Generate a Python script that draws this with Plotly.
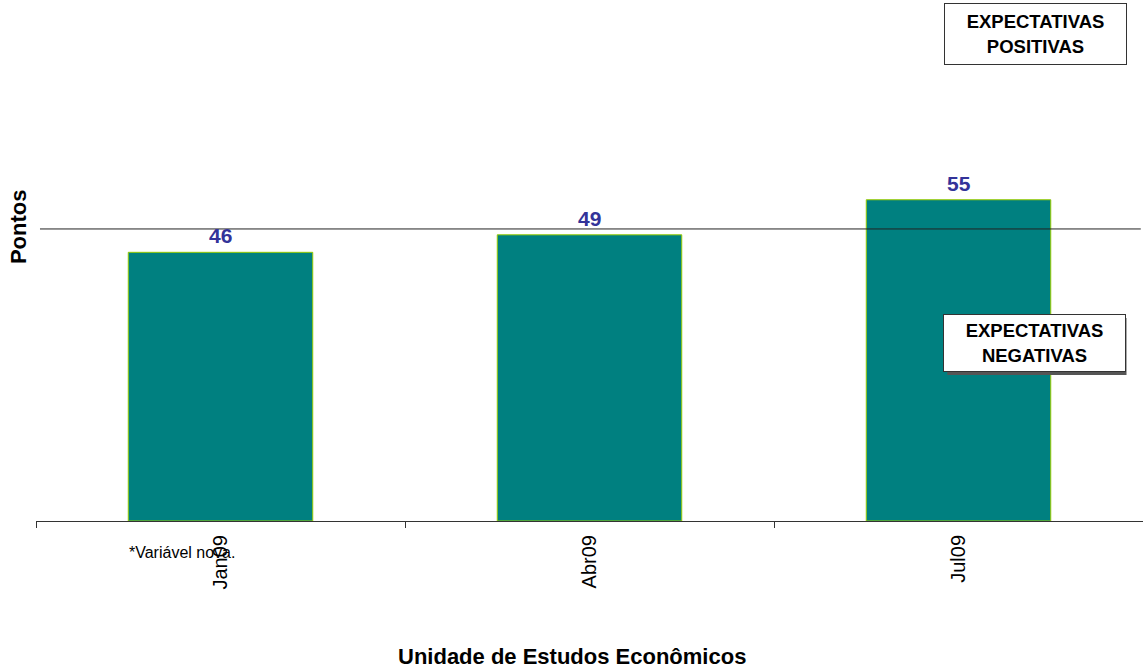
import plotly.graph_objects as go

categories = ["Jan09", "Abr09", "Jul09"]
values = [46, 49, 55]
value_labels = ["46", "49", "55"]
reference_level = 50

FONT = "Liberation Sans, Arial, sans-serif"

fig = go.Figure()
fig.add_trace(go.Bar(
    x=categories, y=values,
    marker=dict(color="#008080", line=dict(color="#99cc00", width=1)),
    width=0.5,
    hoverinfo="skip",
))

for c, v, t in zip(categories, values, value_labels):
    fig.add_annotation(x=c, y=v, text="<b>%s</b>" % t, showarrow=False,
                       yanchor="bottom", yshift=3,
                       font=dict(family=FONT, size=21, color="#333399"))

fig.add_shape(type="line", xref="paper", yref="y", x0=0.0036, x1=0.998,
              y0=reference_level, y1=reference_level,
              line=dict(color="#222222", width=1))

# Annotation boxes
fig.add_annotation(xref="paper", yref="paper", x=0.9029, y=0.9347,
                   xanchor="center", yanchor="middle",
                   text="<b>EXPECTATIVAS<br>POSITIVAS</b>", showarrow=False,
                   font=dict(family=FONT, size=18.5, color="black"),
                   bordercolor="#333333", borderwidth=1, bgcolor="white",
                   width=179, height=58, align="center")
# shadow for negative box
fig.add_shape(type="rect", xref="paper", yref="paper",
              x0=0.8232, x1=0.9851, y0=0.2802, y1=0.3898,
              line=dict(width=0), fillcolor="#555555", layer="above")
fig.add_annotation(xref="paper", yref="paper", x=0.9024, y=0.3416,
                   xanchor="center", yanchor="middle",
                   text="<b>EXPECTATIVAS<br>NEGATIVAS</b>", showarrow=False,
                   font=dict(family=FONT, size=18.5, color="black"),
                   bordercolor="#333333", borderwidth=1, bgcolor="white",
                   width=179, height=54, align="center")

fig.add_annotation(xref="paper", yref="paper", x=0.082, y=-0.0614,
                   xanchor="left", yanchor="middle",
                   text="*Variável nova.", showarrow=False,
                   font=dict(family=FONT, size=16, color="black"))

fig.add_annotation(xref="paper", yref="paper", x=-0.0163, y=0.566,
                   xanchor="center", yanchor="middle",
                   text="<b>Pontos</b>", textangle=-90, showarrow=False,
                   font=dict(family=FONT, size=22, color="black"))

fig.add_annotation(xref="paper", yref="paper", x=0.484, y=-0.261,
                   xanchor="center", yanchor="middle",
                   text="<b>Unidade de Estudos Econômicos</b>", showarrow=False,
                   font=dict(family=FONT, size=22, color="black"))

fig.update_xaxes(
    range=[-0.5, 2.5], tickson="boundaries", ticks="outside", ticklen=6,
    tickcolor="#333333", showline=True, linecolor="#333333", linewidth=1,
    tickangle=-90, tickfont=dict(family=FONT, size=20, color="black"),
    ticklabelstandoff=5,
    showgrid=False, zeroline=False, automargin=False,
)
fig.update_yaxes(range=[0, 89.2], showticklabels=False, showgrid=False,
                 zeroline=False, showline=False, ticks="", automargin=False)

fig.update_layout(
    width=1143, height=671,
    margin=dict(l=36, r=0, t=0, b=150, autoexpand=False),
    plot_bgcolor="white", paper_bgcolor="white",
    showlegend=False, bargap=0.5,
    font=dict(family=FONT),
)

fig.write_html("out.html", config={"displayModeBar": False},
               post_script="document.body.style.margin='0';")
